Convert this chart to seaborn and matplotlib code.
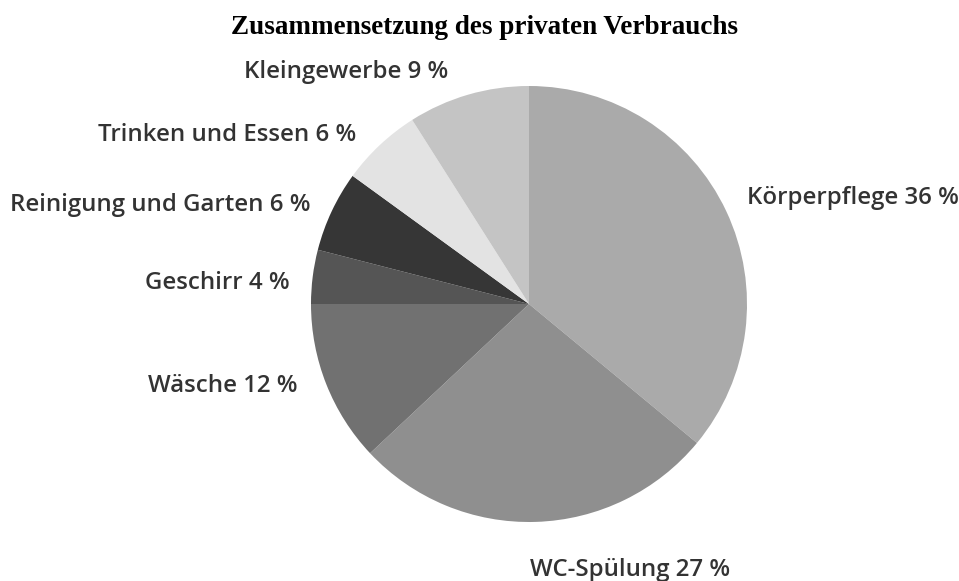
import matplotlib
matplotlib.use("Agg")
import matplotlib.pyplot as plt
import seaborn as sns

# data (clockwise from 12 o'clock)
kategorien = ["Körperpflege", "WC-Spülung", "Wäsche", "Geschirr",
              "Reinigung und Garten", "Trinken und Essen", "Kleingewerbe"]
anteile = [36, 27, 12, 4, 6, 6, 9]
farben = ["#aaaaaa", "#8f8f8f", "#717171", "#555555",
          "#363636", "#e3e3e3", "#c4c4c4"]

# label anchors in pixel coords (x, y from top) and alignment
label_pos = [(747, 198, "left"), (530, 570, "left"), (298, 386, "right"),
             (290, 283, "right"), (311, 205, "right"), (356, 135, "right"),
             (448, 72, "right")]

sns.set_theme(style="white")

W, H = 959, 581
fig = plt.figure(figsize=(W / 100, H / 100), dpi=100)
ax = fig.add_axes([0, 0, 1, 1])

cx, cy, r = 529, H - 304, 218
ax.pie(anteile, colors=farben, startangle=90, counterclock=False,
       center=(cx, cy), radius=r, frame=True,
       wedgeprops=dict(linewidth=0))
ax.set_xlim(0, W)
ax.set_ylim(0, H)
ax.set_aspect("equal")
ax.axis("off")

for name, val, (x, y, ha) in zip(kategorien, anteile, label_pos):
    ax.text(x, H - y, f"{name} {val} %", ha=ha, va="center",
            fontsize=17.3, fontfamily="Open Sans", fontweight="semibold",
            color="#333333")

fig.text(484.5 / W, 1 - 27 / H, "Zusammensetzung des privaten Verbrauchs",
         ha="center", va="center", fontsize=19.5, fontweight="bold",
         fontfamily="Liberation Serif", color="black")

fig.savefig("out.png", dpi=100)
